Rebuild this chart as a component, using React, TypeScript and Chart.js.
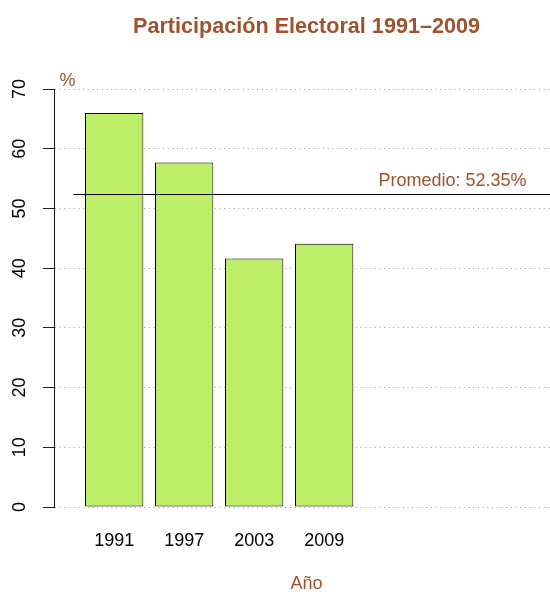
import React, { useEffect, useRef } from "react";
import { Chart, registerables } from "chart.js";

Chart.register(...registerables);

// ---- data ----
const years = ["1991", "1997", "2003", "2009"];
const participation = [66.0, 57.7, 41.6, 44.1];
const yTickStep = 10;
const yMin = 0;
const yMax = 70;
const titleText = "Participación Electoral 1991\u20132009";
const xTitleText = "Año";
const yUnitText = "%";
const avgPrefix = "Promedio: ";

// ---- styling / layout ----
const SIENNA = "#A0522D";
const BAR_FILL = "#BCEE68";
const FONT = "'Liberation Sans', Arial, Helvetica, sans-serif";
const BAR_WIDTH = 1;
const BAR_SPACE = 0.2;
const X_MIN = -0.33143;
const X_MAX = 8.32571;
const barPos = (i: number) => BAR_SPACE + BAR_WIDTH / 2 + i * (BAR_WIDTH + BAR_SPACE);

const average =
  Math.round((participation.reduce((a, b) => a + b, 0) / participation.length) * 100) / 100;
const avgLabel = `${avgPrefix}${average.toFixed(2)}%`;

const overlayPlugin = {
  id: "overlay",
  afterDatasetsDraw(chart: any) {
    const { ctx, chartArea, scales } = chart;
    const x = scales.x;
    const y = scales.y;
    const yAvg = Math.round(y.getPixelForValue(average)) + 0.5;
    ctx.save();
    ctx.strokeStyle = "#000";
    ctx.lineWidth = 1;
    ctx.beginPath();
    ctx.moveTo(x.getPixelForValue(0), yAvg);
    ctx.lineTo(chartArea.right, yAvg);
    ctx.stroke();
    ctx.fillStyle = SIENNA;
    ctx.font = `18px ${FONT}`;
    ctx.textAlign = "center";
    ctx.textBaseline = "alphabetic";
    ctx.fillText(avgLabel, x.getPixelForValue(6.5), yAvg - 9);
    ctx.fillText(yUnitText, x.getPixelForValue(-0.1), y.getPixelForValue(yMax) - 3);
    ctx.restore();
  },
};

export default function App() {
  const ref = useRef<HTMLCanvasElement | null>(null);

  useEffect(() => {
    if (!ref.current) return;
    const chart = new Chart(ref.current, {
      type: "bar",
      data: {
        datasets: [
          {
            data: participation.map((v, i) => ({ x: barPos(i), y: v })),
            backgroundColor: BAR_FILL,
            borderColor: "#000",
            borderWidth: 1,
            borderSkipped: false,
            barPercentage: BAR_WIDTH / (BAR_WIDTH + BAR_SPACE),
            categoryPercentage: 1,
          },
        ],
      },
      options: {
        responsive: false,
        animation: false,
        devicePixelRatio: 1,
        layout: { padding: { left: 0, right: 1, top: 0, bottom: 0 } },
        plugins: {
          legend: { display: false },
          tooltip: { enabled: false },
          title: {
            display: true,
            text: titleText,
            color: SIENNA,
            fullSize: false,
            font: { family: FONT, size: 21.6, weight: "bold", lineHeight: 1.2 },
            padding: { top: 14, bottom: 49.08 },
          },
        },
        scales: {
          x: {
            type: "linear",
            min: X_MIN,
            max: X_MAX,
            offset: false,
            grid: { display: false, drawTicks: false, offset: false },
            border: { display: false },
            afterBuildTicks: (s: any) => {
              s.ticks = years.map((_, i) => ({ value: barPos(i) }));
            },
            afterFit: (s: any) => {
              s.height = 85;
              s.paddingLeft = 0;
              s.paddingRight = 0;
            },
            ticks: {
              autoSkip: false,
              maxRotation: 0,
              minRotation: 0,
              padding: 23,
              color: "#000",
              font: { family: FONT, size: 18, lineHeight: 1.2 },
              callback: (_v: any, i: number) => years[i] ?? "",
            },
            title: {
              display: true,
              text: xTitleText,
              color: SIENNA,
              font: { family: FONT, size: 18, lineHeight: 1 },
              padding: { top: 0, bottom: -1 },
            },
          },
          y: {
            type: "linear",
            min: yMin,
            max: yMax,
            afterFit: (s: any) => {
              s.width = 54;
              s.paddingTop = 0;
              s.paddingBottom = 0;
            },
            grid: {
              color: "#999",
              lineWidth: 1,
              drawTicks: true,
              tickLength: 11,
              tickColor: "#222",
              tickWidth: 1,
            },
            border: { display: true, color: "#111", width: 1, dash: [1, 3.7] },
            ticks: {
              stepSize: yTickStep,
              minRotation: 90,
              maxRotation: 90,
              crossAlign: "center",
              padding: 12.5,
              color: "#000",
              font: { family: FONT, size: 18, lineHeight: 1.2 },
            },
          },
        },
      },
      plugins: [overlayPlugin],
    } as any);
    return () => chart.destroy();
  }, []);

  return (
    <div
      style={{
        position: "fixed",
        left: 0,
        top: 0,
        width: 550,
        height: 592,
        overflow: "hidden",
        background: "#fff",
      }}
    >
      <canvas ref={ref} width={560} height={592} style={{ display: "block" }} />
    </div>
  );
}
